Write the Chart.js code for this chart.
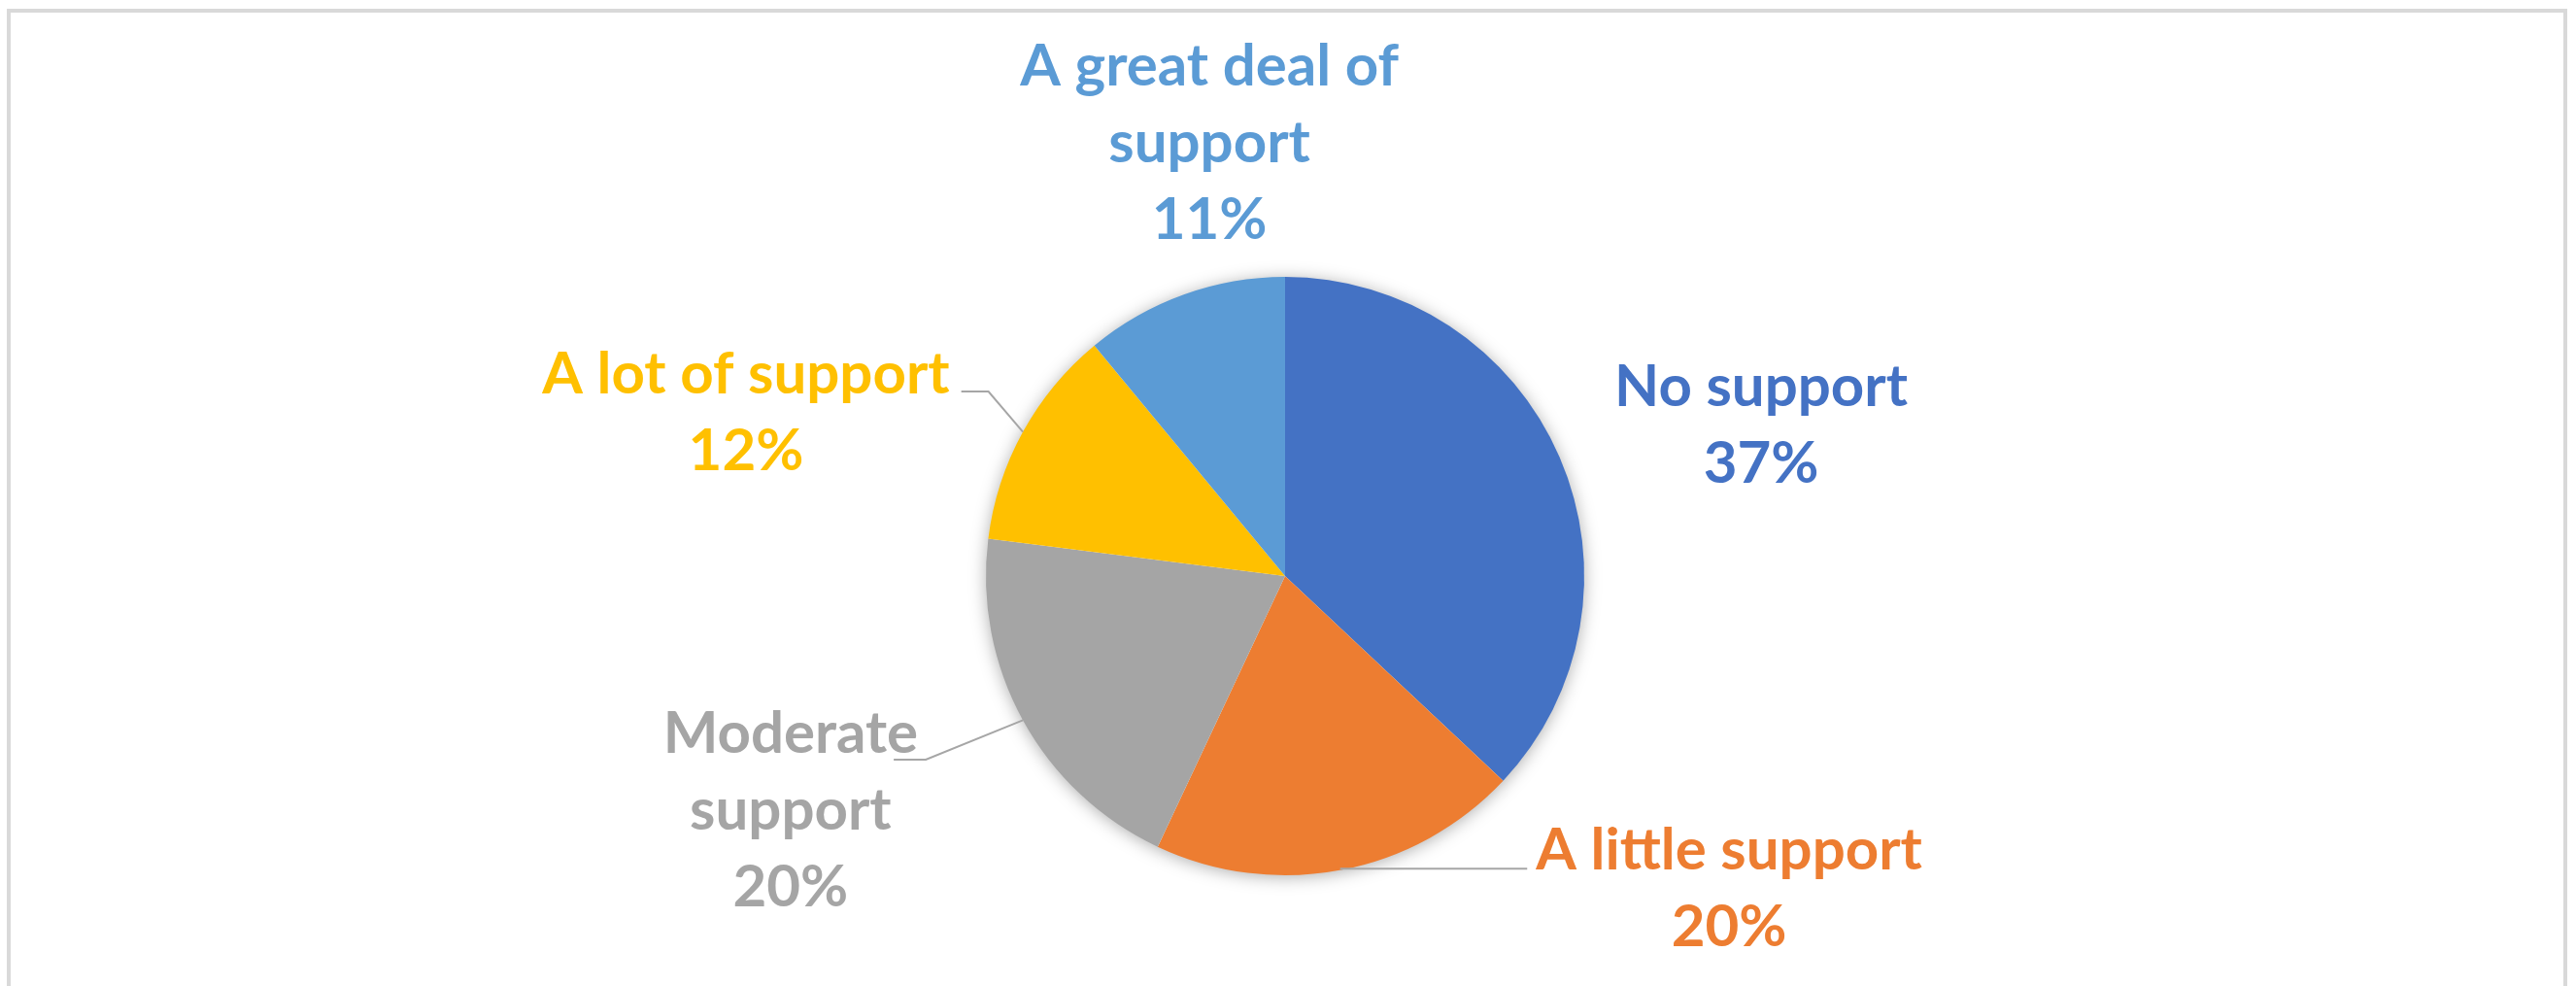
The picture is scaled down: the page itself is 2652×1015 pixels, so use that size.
<!DOCTYPE html>
<html>
<head>
<meta charset="utf-8">
<script src="https://cdn.jsdelivr.net/npm/chart.js@4.4.1/dist/chart.umd.min.js"></script>
<style>
  html, body { margin: 0; padding: 0; background: #fff; overflow: hidden; }
  #wrap { position: relative; width: 2652px; height: 1015px; }
  #frame { position: absolute; left: 7px; top: 9px; width: 2628px; height: 1100px;
           border: 4px solid #d9d9d9; border-bottom: none; }
  #pie { position: absolute; left: 0; top: 0; }
</style>
</head>
<body>
<div id="wrap">
  <div id="frame"></div>
  <canvas id="pie" width="2652" height="1015"></canvas>
</div>
<script>
// 데이터
var categories = ["No support", "A little support", "Moderate support", "A lot of support", "A great deal of support"];
var values = [37, 20, 20, 12, 11];
var labelLines = [["No support"], ["A little support"], ["Moderate", "support"], ["A lot of support"], ["A great deal of", "support"]];
var sliceColors = ["#4472C4", "#ED7D31", "#A5A5A5", "#FFC000", "#5B9BD5"];

// label placement (center x, first baseline) in pie-radius units, plus leader lines
var labelSpots = [
  { dx: 1.591, dy: -0.568, leader: null },
  { dx: 1.484, dy: 0.981, leader: { side: "left", a: 9, dy: -1 } },
  { dx: -1.653, dy: 0.591, leader: { side: "right", a: -25, b: 8, dy: 7 } },
  { dx: -1.802, dy: -0.610, leader: { side: "right", a: 12, b: 40, dy: -2 } },
  { dx: -0.253, dy: -1.640, leader: null }
];
var labelFont = "bold 60px Lato";
var lineGap = 79;

var total = values.reduce(function(s, v){ return s + v; }, 0);

var pieShadow = { // 파이 뒤 그림자
  id: "pieShadow",
  beforeDatasetsDraw: function(chart){
    var arc = chart.getDatasetMeta(0).data[0];
    var ctx = chart.ctx;
    ctx.save();
    ctx.shadowColor = "rgba(0,0,0,0.35)";
    ctx.shadowBlur = 18;
    ctx.shadowOffsetY = 2;
    ctx.fillStyle = "#fff";
    ctx.beginPath();
    ctx.arc(arc.x, arc.y, arc.outerRadius - 1, 0, Math.PI * 2);
    ctx.fill();
    ctx.restore();
  }
};

var sliceLabels = { // 라벨 + 지시선
  id: "sliceLabels",
  afterDatasetsDraw: function(chart){
    var ctx = chart.ctx;
    var meta = chart.getDatasetMeta(0);
    ctx.save();
    ctx.font = labelFont;
    ctx.textBaseline = "alphabetic";
    ctx.textAlign = "center";
    for (var i = 0; i < meta.data.length; i++) {
      var arc = meta.data[i];
      var r = arc.outerRadius;
      var spot = labelSpots[i];
      var cx = arc.x + spot.dx * r;
      var by = arc.y + spot.dy * r;
      var lines = labelLines[i].concat([Math.round(values[i] / total * 100) + "%"]);
      ctx.fillStyle = sliceColors[i];
      for (var j = 0; j < lines.length; j++) {
        ctx.fillText(lines[j], cx, by + j * lineGap);
      }
      if (spot.leader) {
        var mid = (arc.startAngle + arc.endAngle) / 2;
        var px = arc.x + Math.cos(mid) * r;
        var py = arc.y + Math.sin(mid) * r;
        var w = ctx.measureText(lines[0]).width;
        var ly = by + spot.leader.dy;
        ctx.strokeStyle = "#a6a6a6";
        ctx.lineWidth = 2;
        ctx.beginPath();
        if (spot.leader.side === "right") {
          var edge = cx + w / 2;
          ctx.moveTo(edge + spot.leader.a, ly);
          ctx.lineTo(edge + spot.leader.b, ly);
          ctx.lineTo(px, py);
        } else {
          var left = cx - w / 2;
          ctx.moveTo(left - spot.leader.a, ly);
          ctx.lineTo(px, ly);
          ctx.lineTo(px, py);
        }
        ctx.stroke();
      }
    }
    ctx.restore();
  }
};

var chartjs = new Chart(document.getElementById("pie"), {
  type: "pie",
  data: {
    labels: categories,
    datasets: [{
      data: values,
      backgroundColor: sliceColors,
      borderWidth: 0
    }]
  },
  options: {
    responsive: false,
    animation: false,
    layout: { padding: { top: 285, bottom: 114, left: 0, right: 6 } },
    plugins: {
      legend: { display: false },
      tooltip: { enabled: false }
    }
  },
  plugins: [pieShadow, sliceLabels]
});
</script>
</body>
</html>
